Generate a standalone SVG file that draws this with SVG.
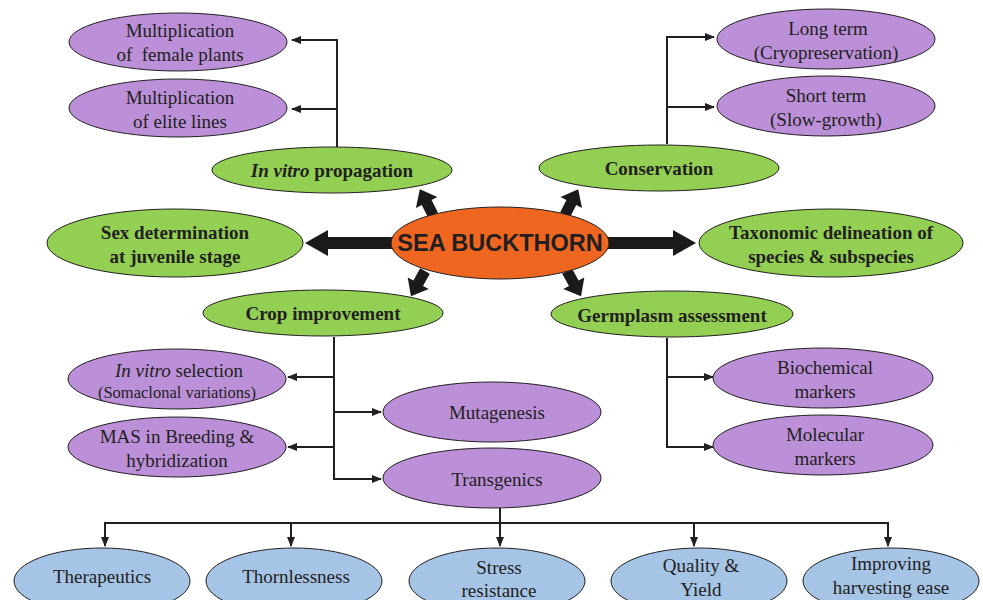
<svg xmlns="http://www.w3.org/2000/svg" width="983" height="600" viewBox="0 0 983 600">
<style>
.g{fill:#92cf52;stroke:#231f20;stroke-width:1}
.p{fill:#bb90d9;stroke:#231f20;stroke-width:1}
.b{fill:#a5c4e6;stroke:#231f20;stroke-width:1}
.o{fill:#ef6620;stroke:#231f20;stroke-width:1}
text{font-family:"Liberation Serif","Times New Roman",serif;font-size:19px;fill:#231f20;text-anchor:middle}
.bd{font-weight:bold}
.sm{font-size:16.5px}
.c line,.c polyline{stroke:#231f20;stroke-width:2;fill:none}
.ta{fill:#1a1a1a}
</style>
<defs>
<marker id="ah" markerUnits="userSpaceOnUse" markerWidth="10" markerHeight="10" viewBox="0 0 10 10" refX="9" refY="5" orient="auto">
<path d="M0,1 L10,5 L0,9 z" fill="#231f20"/>
</marker>
<polygon id="sa" points="0,-5.5 14,-5.5 14,-12 29,0 14,12 14,5.5 0,5.5"/>
</defs>

<g id="connectors" class="c">
<polygon class="ta" points="393,237 328,237 328,230 305,243 328,256 328,249 393,249"/>
<polygon class="ta" points="607,237 673,237 673,230 696,243 673,256 673,249 607,249"/>
<use href="#sa" class="ta" transform="translate(433,215) rotate(-117)"/>
<use href="#sa" class="ta" transform="translate(565,215) rotate(-63)"/>
<use href="#sa" class="ta" transform="translate(425,271) rotate(119)"/>
<use href="#sa" class="ta" transform="translate(567,271) rotate(61)"/>
<polyline points="337,147 337,40 292,40" marker-end="url(#ah)"/>
<line x1="337" y1="109" x2="292" y2="109" marker-end="url(#ah)"/>
<polyline points="667,144 667,37 714,37" marker-end="url(#ah)"/>
<line x1="667" y1="107" x2="714" y2="107" marker-end="url(#ah)"/>
<polyline points="334,337 334,479 381,479" marker-end="url(#ah)"/>
<line x1="334" y1="377" x2="288" y2="377" marker-end="url(#ah)"/>
<line x1="334" y1="447" x2="288" y2="447" marker-end="url(#ah)"/>
<line x1="334" y1="412" x2="381" y2="412" marker-end="url(#ah)"/>
<polyline points="667,338 667,447 713,447" marker-end="url(#ah)"/>
<line x1="667" y1="377" x2="713" y2="377" marker-end="url(#ah)"/>
<line x1="500" y1="508" x2="500" y2="523"/>
<line x1="104" y1="523" x2="889" y2="523"/>
<line x1="105" y1="523" x2="105" y2="546" marker-end="url(#ah)"/>
<line x1="291" y1="523" x2="291" y2="546" marker-end="url(#ah)"/>
<line x1="500" y1="523" x2="500" y2="546" marker-end="url(#ah)"/>
<line x1="694" y1="523" x2="694" y2="546" marker-end="url(#ah)"/>
<line x1="888" y1="523" x2="888" y2="546" marker-end="url(#ah)"/>
</g>

<g id="sea-buckthorn">
<ellipse class="o" cx="500" cy="243" rx="109" ry="36"/>
<text x="500" y="251" style="font-family:'Liberation Sans',Arial,sans-serif;font-weight:bold;font-size:23.5px">SEA BUCKTHORN</text>
</g>

<g id="in-vitro-propagation">
<ellipse class="g" cx="332" cy="170" rx="120" ry="23"/>
<text x="332" y="177" class="bd"><tspan font-style="italic">In vitro</tspan> propagation</text>
</g>
<g id="conservation">
<ellipse class="g" cx="659" cy="168" rx="120" ry="23"/>
<text x="659" y="175" class="bd">Conservation</text>
</g>
<g id="sex-determination">
<ellipse class="g" cx="175" cy="243" rx="128" ry="34"/>
<text x="175" y="239" class="bd">Sex determination</text>
<text x="175" y="263" class="bd">at juvenile stage</text>
</g>
<g id="taxonomic">
<ellipse class="g" cx="831" cy="243" rx="132" ry="34"/>
<text x="831" y="239" class="bd">Taxonomic delineation of</text>
<text x="831" y="263" class="bd">species &amp; subspecies</text>
</g>
<g id="crop-improvement">
<ellipse class="g" cx="323" cy="313" rx="120" ry="23"/>
<text x="323" y="320" class="bd">Crop improvement</text>
</g>
<g id="germplasm">
<ellipse class="g" cx="672" cy="314" rx="121" ry="23"/>
<text x="672" y="322" class="bd">Germplasm assessment</text>
</g>

<g id="mult-female">
<ellipse class="p" cx="178" cy="42" rx="109" ry="29"/>
<text x="180" y="37">Multiplication</text>
<text x="180" y="61" style="white-space:pre">of  female plants</text>
</g>
<g id="mult-elite">
<ellipse class="p" cx="178" cy="108" rx="109" ry="29"/>
<text x="180" y="104">Multiplication</text>
<text x="180" y="128">of elite lines</text>
</g>
<g id="long-term">
<ellipse class="p" cx="826" cy="39" rx="109" ry="30"/>
<text x="828" y="35">Long term</text>
<text x="826" y="59">(Cryopreservation)</text>
</g>
<g id="short-term">
<ellipse class="p" cx="826" cy="106" rx="109" ry="30"/>
<text x="826" y="102">Short term</text>
<text x="826" y="126">(Slow-growth)</text>
</g>
<g id="in-vitro-selection">
<ellipse class="p" cx="177" cy="379" rx="109" ry="30"/>
<text x="179" y="377"><tspan font-style="italic">In vitro</tspan> selection</text>
<text x="177" y="398" class="sm">(Somaclonal variations)</text>
</g>
<g id="mas">
<ellipse class="p" cx="177" cy="447" rx="109" ry="30"/>
<text x="177" y="443">MAS in Breeding &amp;</text>
<text x="177" y="467">hybridization</text>
</g>
<g id="mutagenesis">
<ellipse class="p" cx="492" cy="412" rx="109" ry="30"/>
<text x="497" y="419">Mutagenesis</text>
</g>
<g id="transgenics">
<ellipse class="p" cx="492" cy="478" rx="109" ry="30"/>
<text x="497" y="486">Transgenics</text>
</g>
<g id="biochemical">
<ellipse class="p" cx="823" cy="378" rx="110" ry="30"/>
<text x="825" y="374">Biochemical</text>
<text x="825" y="398">markers</text>
</g>
<g id="molecular">
<ellipse class="p" cx="823" cy="445" rx="110" ry="30"/>
<text x="825" y="441">Molecular</text>
<text x="825" y="465">markers</text>
</g>

<g id="therapeutics">
<ellipse class="b" cx="102" cy="581" rx="88" ry="33"/>
<text x="102" y="583">Therapeutics</text>
</g>
<g id="thornlessness">
<ellipse class="b" cx="294" cy="581" rx="88" ry="33"/>
<text x="296" y="583">Thornlessness</text>
</g>
<g id="stress">
<ellipse class="b" cx="497" cy="581" rx="88" ry="33"/>
<text x="499" y="574">Stress</text>
<text x="499" y="597">resistance</text>
</g>
<g id="quality">
<ellipse class="b" cx="699" cy="581" rx="88" ry="33"/>
<text x="701" y="572">Quality &amp;</text>
<text x="701" y="596">Yield</text>
</g>
<g id="harvesting">
<ellipse class="b" cx="891" cy="581" rx="88" ry="33"/>
<text x="891" y="570">Improving</text>
<text x="891" y="594">harvesting ease</text>
</g>
</svg>
